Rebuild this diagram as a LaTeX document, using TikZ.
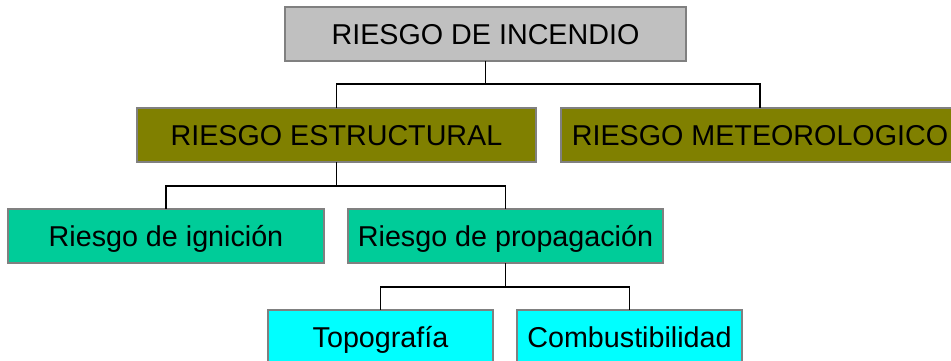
\documentclass[tikz,border=0pt]{standalone}
\usepackage{fontspec}
\setmainfont{Liberation Sans}
\definecolor{boxgray}{HTML}{C0C0C0}
\definecolor{boxolive}{HTML}{808000}
\definecolor{boxgreen}{HTML}{00CC99}
\definecolor{boxcyan}{HTML}{00FFFF}
\definecolor{edgegray}{HTML}{808080}
\begin{document}
\begin{tikzpicture}[x=1pt, y=1pt, node distance=101pt,
    box/.style={rectangle, draw=edgegray, line width=1.5pt, inner sep=0pt, outer sep=0pt,
        minimum height=54pt, text height=20.5pt, text depth=0pt,
        font=\fontsize{28.7}{32}\selectfont},
    link/.style={draw=black, line width=1.5pt}]
    \useasboundingbox (0,0) rectangle (951,-361);

    % Boxes
    \node (incendio) [box, fill=boxgray, minimum width=401pt] at (485.5,-34) {RIESGO DE INCENDIO};

    \node (estructural) [box, fill=boxolive, minimum width=399pt, below of=incendio, xshift=-149pt] {RIESGO ESTRUCTURAL};

    \node (meteo) [box, fill=boxolive, minimum width=398pt, below of=incendio, xshift=274.5pt] {RIESGO METEOROLOGICO};

    \node (ignicion) [box, fill=boxgreen, minimum width=316pt, below of=estructural, xshift=-170.5pt] {Riesgo de ignición};

    \node (propagacion) [box, fill=boxgreen, minimum width=315pt, below of=estructural, xshift=169pt] {Riesgo de propagación};

    \node (topografia) [box, fill=boxcyan, minimum width=225pt, below of=propagacion, xshift=-125pt] {Topografía};

    \node (combustible) [box, fill=boxcyan, minimum width=225pt, below of=propagacion, xshift=124pt] {Combustibilidad};

    % Links
    \draw[link] (incendio.south) -- ++(0,-23) -| (estructural.north);
    \draw[link] (incendio.south) -- ++(0,-23) -| (meteo.north);
    \draw[link] (estructural.south) -- ++(0,-24) -| (ignicion.north);
    \draw[link] (estructural.south) -- ++(0,-24) -| (propagacion.north);
    \draw[link] (propagacion.south) -- ++(0,-24) -| (topografia.north);
    \draw[link] (propagacion.south) -- ++(0,-24) -| (combustible.north);
\end{tikzpicture}
\end{document}
